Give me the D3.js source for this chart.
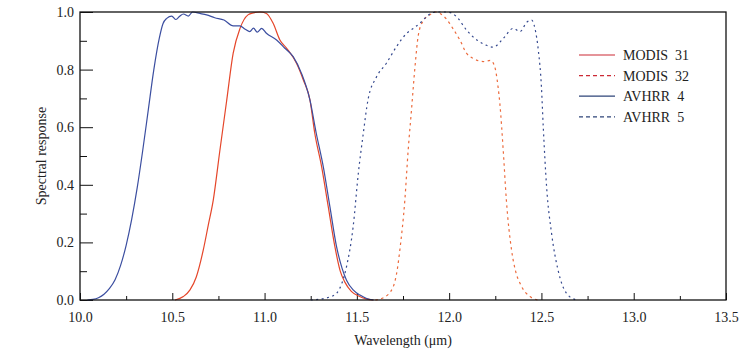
<!DOCTYPE html>
<html>
<head>
<meta charset="utf-8">
<script src="https://cdn.jsdelivr.net/npm/d3@7"></script>
<style>
  body { margin: 0; background: #fff; }
  svg text { font-family: "Liberation Serif", "Times New Roman", Times, serif !important; fill: #222; }
</style>
</head>
<body>
<div id="chart"></div>
<script>
// spectral response curves
var modis31Wl   = [10.515, 10.56, 10.596, 10.63, 10.668, 10.695, 10.722, 10.758, 10.795, 10.83, 10.867, 10.91, 10.94, 10.975, 11.01, 11.047, 11.083, 11.12, 11.173, 11.21, 11.246, 11.272, 11.309, 11.345, 11.381, 11.41, 11.435, 11.47, 11.51, 11.55, 11.59];
var modis31Resp = [0, 0.012, 0.035, 0.08, 0.174, 0.26, 0.347, 0.52, 0.694, 0.857, 0.943, 0.99, 0.997, 1.0, 0.995, 0.96, 0.903, 0.874, 0.822, 0.764, 0.694, 0.579, 0.463, 0.324, 0.185, 0.1, 0.062, 0.03, 0.014, 0.004, 0];

var modis32Wl   = [11.6, 11.65, 11.697, 11.72, 11.733, 11.76, 11.778, 11.796, 11.815, 11.833, 11.86, 11.896, 11.92, 11.95, 11.986, 12.02, 12.058, 12.094, 12.13, 12.185, 12.225, 12.247, 12.265, 12.275, 12.293, 12.31, 12.338, 12.36, 12.384, 12.44, 12.48];
var modis32Resp = [0, 0.01, 0.046, 0.11, 0.174, 0.347, 0.52, 0.66, 0.81, 0.92, 0.97, 0.99, 1.0, 0.995, 0.975, 0.943, 0.903, 0.857, 0.839, 0.828, 0.832, 0.81, 0.74, 0.68, 0.52, 0.347, 0.174, 0.1, 0.058, 0.011, 0];

var avhrr4Wl   = [10.04, 10.07, 10.1, 10.13, 10.16, 10.19, 10.22, 10.25, 10.28, 10.31, 10.34, 10.37, 10.4, 10.43, 10.45, 10.47, 10.497, 10.52, 10.54, 10.56, 10.587, 10.61, 10.65, 10.686, 10.73, 10.78, 10.83, 10.866, 10.895, 10.92, 10.94, 10.96, 10.984, 11.01, 11.065, 11.11, 11.155, 11.2, 11.246, 11.28, 11.318, 11.354, 11.39, 11.42, 11.444, 11.48, 11.517, 11.55, 11.59];
var avhrr4Resp = [0, 0.002, 0.008, 0.02, 0.04, 0.07, 0.12, 0.19, 0.28, 0.39, 0.52, 0.66, 0.8, 0.91, 0.96, 0.978, 0.986, 0.974, 0.985, 0.993, 0.986, 1.0, 0.995, 0.99, 0.98, 0.972, 0.952, 0.952, 0.94, 0.932, 0.944, 0.93, 0.943, 0.926, 0.903, 0.874, 0.845, 0.787, 0.694, 0.579, 0.463, 0.324, 0.185, 0.11, 0.069, 0.035, 0.017, 0.006, 0];

var avhrr5Wl   = [11.25, 11.3, 11.35, 11.39, 11.42, 11.444, 11.48, 11.508, 11.535, 11.56, 11.607, 11.66, 11.715, 11.77, 11.805, 11.84, 11.878, 11.91, 11.95, 11.986, 12.04, 12.094, 12.15, 12.2, 12.239, 12.293, 12.347, 12.384, 12.42, 12.447, 12.465, 12.483, 12.5, 12.51, 12.528, 12.555, 12.59, 12.636, 12.69];
var avhrr5Resp = [0, 0.003, 0.01, 0.023, 0.06, 0.116, 0.255, 0.44, 0.579, 0.694, 0.775, 0.822, 0.88, 0.926, 0.943, 0.96, 0.984, 0.998, 1.0, 1.0, 0.984, 0.9375, 0.903, 0.885, 0.878, 0.908, 0.943, 0.932, 0.964, 0.972, 0.943, 0.868, 0.74, 0.6, 0.393, 0.231, 0.104, 0.023, 0];

var seriesNames = ["MODIS  31", "MODIS  32", "AVHRR  4", "AVHRR  5"];
var xTicks = [10.0, 10.5, 11.0, 11.5, 12.0, 12.5, 13.0, 13.5];
var yTicks = [0.0, 0.2, 0.4, 0.6, 0.8, 1.0];

var series = [
    {name: seriesNames[0], wl: modis31Wl, resp: modis31Resp, color: "#e5462a", legendColor: "#cc2a35", dash: null},
    {name: seriesNames[1], wl: modis32Wl, resp: modis32Resp, color: "#ec6a3c", legendColor: "#cc2a35", dash: "2.5,3.5"},
    {name: seriesNames[2], wl: avhrr4Wl, resp: avhrr4Resp, color: "#3b4ea0", legendColor: "#2e4478", dash: null},
    {name: seriesNames[3], wl: avhrr5Wl, resp: avhrr5Resp, color: "#34488e", legendColor: "#2e4478", dash: "2,3.5"}
];

var serif = "'Liberation Serif', 'Times New Roman', serif";

var margin = {top: 12, right: 25, bottom: 64, left: 80};
var width = 751 - margin.left - margin.right;
var height = 364 - margin.top - margin.bottom;

var svg = d3.select("#chart").append("svg")
    .attr("width", 751)
    .attr("height", 364)
    .attr("font-family", serif);

var g = svg.append("g")
    .attr("transform", "translate(" + margin.left + "," + margin.top + ")");

var x = d3.scaleLinear().domain([10, 13.5]).range([0, width]);
var y = d3.scaleLinear().domain([0, 1]).range([height, 0]);

//minor ticks
g.append("g")
    .attr("transform", "translate(0," + height + ")")
    .call(d3.axisBottom(x).tickValues(d3.range(10.25, 13.5, 0.5)).tickSize(-4).tickFormat(""))
    .call(function (a) { a.select(".domain").remove(); });
g.append("g")
    .call(d3.axisLeft(y).tickValues(d3.range(0.1, 1, 0.2)).tickSize(-7).tickFormat(""))
    .call(function (a) { a.select(".domain").remove(); });

//major ticks
g.append("g")
    .attr("class", "x-axis")
    .attr("transform", "translate(0," + height + ")")
    .call(d3.axisBottom(x).tickValues(xTicks).tickSize(-7).tickPadding(12).tickFormat(d3.format(".1f")))
    .call(function (a) { a.select(".domain").remove(); })
    .selectAll("text")
    .style("font-family", serif)
    .style("font-size", "14px");

g.append("g")
    .attr("class", "y-axis")
    .call(d3.axisLeft(y).tickValues(yTicks).tickSize(-13).tickPadding(6).tickFormat(d3.format(".1f")))
    .call(function (a) { a.select(".domain").remove(); })
    .selectAll("text")
    .style("font-family", serif)
    .style("font-size", "14px");

g.selectAll(".tick line").attr("stroke", "#111");

//curves
var line = d3.line()
    .x(function (d) { return x(d[0]); })
    .y(function (d) { return y(d[1]); })
    .curve(d3.curveMonotoneX);

series.forEach(function (s) {
    var pts = s.wl.map(function (w, i) { return [w, s.resp[i]]; });
    g.append("path")
        .datum(pts)
        .attr("fill", "none")
        .attr("stroke", s.color)
        .attr("stroke-width", 1.2)
        .attr("stroke-dasharray", s.dash)
        .attr("d", line);
});

//frame
g.append("rect")
    .attr("width", width)
    .attr("height", height)
    .attr("fill", "none")
    .attr("stroke", "#111")
    .attr("stroke-width", 1.3);

//axis titles
svg.append("text")
    .attr("x", margin.left + width / 2)
    .attr("y", 345)
    .attr("text-anchor", "middle")
    .style("font-family", serif)
    .style("font-size", "14px")
    .text("Wavelength (\u03bcm)");

svg.append("text")
    .attr("transform", "translate(46," + (margin.top + height / 2) + ") rotate(-90)")
    .attr("text-anchor", "middle")
    .style("font-family", serif)
    .style("font-size", "14px")
    .text("Spectral response");

//legend
var legend = svg.append("g").attr("transform", "translate(579,55)");
series.forEach(function (s, i) {
    var row = legend.append("g").attr("transform", "translate(0," + (i * 20.6) + ")");
    row.append("line")
        .attr("x1", 0).attr("x2", 36)
        .attr("stroke", s.legendColor)
        .attr("stroke-width", 1.2)
        .attr("stroke-dasharray", s.dash ? "4,3" : null);
    row.append("text")
        .attr("x", 44)
        .attr("dy", "0.35em")
        .style("font-family", serif)
        .style("font-size", "14px")
        .style("white-space", "pre")
        .text(s.name);
});
</script>
</body>
</html>
